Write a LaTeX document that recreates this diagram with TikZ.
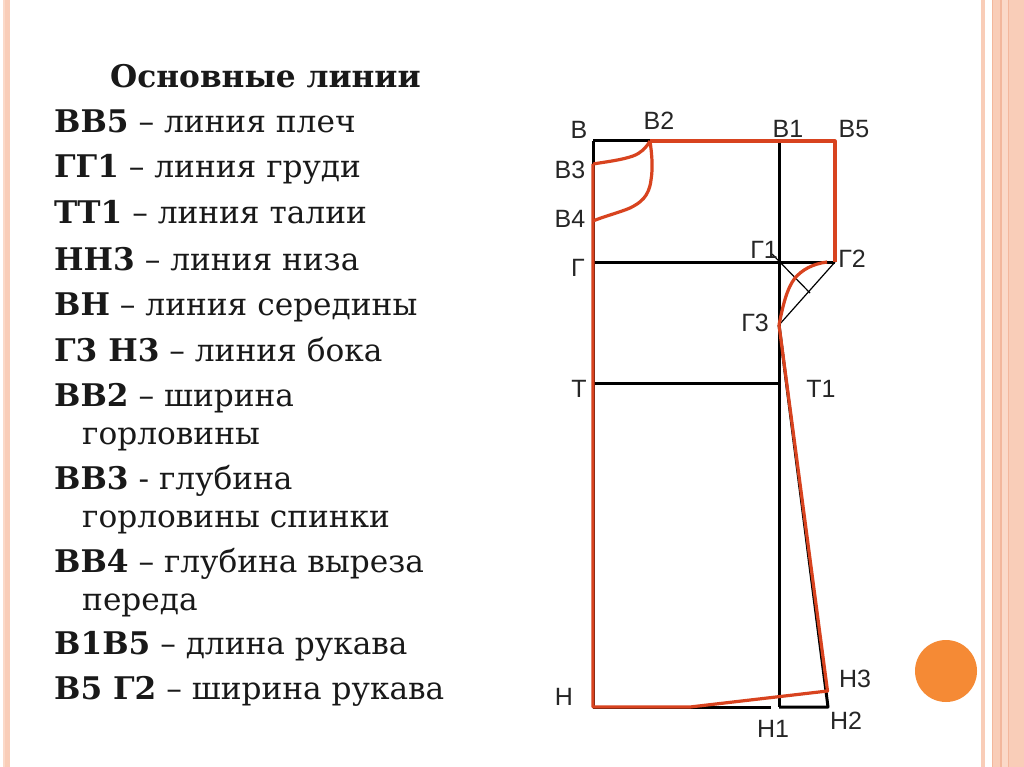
\documentclass[tikz,border=0pt]{standalone}
\usepackage{fontspec}
\setmainfont{Liberation Serif}
\newfontfamily\lblfont{Liberation Sans}
\newfontfamily\txtfont{DejaVu Serif}
\definecolor{redline}{HTML}{D8431F}
\definecolor{stripeA}{HTML}{F9CDB8}
\definecolor{stripeB}{HTML}{FBD9C8}
\definecolor{stripeC}{HTML}{F3B79C}
\definecolor{dot}{HTML}{F58A35}
\tikzset{
  body/.style={anchor=base west,inner sep=0pt,font=\txtfont\fontsize{31.2}{31}\selectfont,text=black!90},
  lbl/.style={inner sep=0pt,font=\lblfont\fontsize{25}{25}\selectfont,text=black!85},
  blk/.style={draw=black,line width=3pt},
  thn/.style={draw=black,line width=1.2pt},
  red/.style={draw=redline,line width=3.2pt,line join=round}
}
\begin{document}
\begin{tikzpicture}[x=1pt,y=-1pt]
\useasboundingbox (0,0) rectangle (1024,767);
\fill[white] (0,0) rectangle (1024,767);
% stripes
\fill[stripeB] (3,0) rectangle (5,767);
\fill[stripeA] (5,0) rectangle (10,767);
\fill[stripeA] (981,0) rectangle (985,767);
\fill[stripeA] (992,0) rectangle (1024,767);
\fill[stripeB] (1002,0) rectangle (1008,767);
\fill[stripeC] (1000,0) rectangle (1001.5,767);
\fill[stripeC] (992,0) rectangle (993,767);
\fill[stripeC] (1008,0) rectangle (1009,767);
\fill[dot] (946,671) circle (31);
% text
\node[body] (t0) at (110,88) {\textbf{Основные линии}};
\node[body] (t1) at (54,133) {\textbf{ВВ5} – линия плеч};
\node[body] (t2) at (54,178) {\textbf{ГГ1} – линия груди};
\node[body] (t3) at (54,224) {\textbf{ТТ1} – линия талии};
\node[body] (t4) at (54,270) {\textbf{НН3} – линия низа};
\node[body] (t5) at (54,315) {\textbf{ВН} – линия середины};
\node[body] (t6) at (54,361) {\textbf{Г3 Н3} – линия бока};
\node[body] (t7) at (54,406) {\textbf{ВВ2} – ширина};
\node[body] (t8) at (82,444) {горловины};
\node[body] (t9) at (54,489) {\textbf{ВВ3}  - глубина};
\node[body] (t10) at (82,527) {горловины спинки};
\node[body] (t11) at (54,572) {\textbf{ВВ4} – глубина выреза};
\node[body] (t12) at (82,610) {переда};
\node[body] (t13) at (54,654) {\textbf{В1В5} – длина рукава};
\node[body] (t14) at (54,699) {\textbf{В5 Г2} – ширина рукава};
% points
\coordinate (B) at (593,141);
\coordinate (B2) at (650,141);
\coordinate (B1) at (779,141);
\coordinate (B5) at (835,141);
\coordinate (B3) at (593,164);
\coordinate (B4) at (593,221);
\coordinate (G) at (593,262);
\coordinate (G1) at (779,262);
\coordinate (G2) at (835,262);
\coordinate (G3) at (779,325);
\coordinate (T) at (593,383);
\coordinate (T1) at (779,383);
\coordinate (H) at (593,707);
\coordinate (H1) at (779,707);
\coordinate (H2) at (828,707);
\coordinate (H3) at (827.5,691);
\coordinate (Hm) at (771,707);
\coordinate (Hc) at (690,707);
\coordinate (A1) at (772,254);
\coordinate (A2) at (810,293);
\coordinate (A3) at (827,262);
% black construction
\draw[blk] (B) -- (B2);
\draw[blk] (B) -- (H);
\draw[blk] (B1) -- (H1);
\draw[blk] (G) -- (G2);
\draw[blk] (T) -- (T1);
\draw[blk] (H) -- (Hm);
\draw[blk,line join=round] (H1) -- (H2) -- (G3);
\draw[thn] (G3) -- (G2);
\draw[thn] (A1) -- (A2);
% red outline
\draw[red] (B2) -- (B5) -- (G2);
\draw[red] (B3) -- (H) -- (Hc) -- (H3) -- (G3);
\draw[red] (B3) .. controls (605,162) and (622,160) .. (633,156) .. controls (641,153) and (646,148) .. (B2);
\draw[red] (B2) .. controls (652,155) and (653,168) .. (651,180) .. controls (649,197) and (640,203) .. (630,208) .. controls (618,213) and (605,216) .. (B4);
\draw[red] (A3) .. controls (812,264) and (802,270) .. (795,278) .. controls (787,288) and (783,305) .. (G3);
% labels
\node[lbl] (lB) at (579,130) {В};
\node[lbl] (lB2) at (659,121) {В2};
\node[lbl] (lB1) at (788,129) {В1};
\node[lbl] (lB5) at (854,129) {В5};
\node[lbl] (lB3) at (570,170) {В3};
\node[lbl] (lB4) at (570,219) {В4};
\node[lbl] (lG) at (578,268) {Г};
\node[lbl] (lG1) at (764,250) {Г1};
\node[lbl] (lG2) at (852,259) {Г2};
\node[lbl] (lG3) at (755,323) {Г3};
\node[lbl] (lT) at (579,389) {Т};
\node[lbl] (lT1) at (821,389) {Т1};
\node[lbl] (lH) at (564,697) {Н};
\node[lbl] (lH1) at (773,729) {Н1};
\node[lbl] (lH2) at (846,721) {Н2};
\node[lbl] (lH3) at (855,679) {Н3};
\end{tikzpicture}
\end{document}
